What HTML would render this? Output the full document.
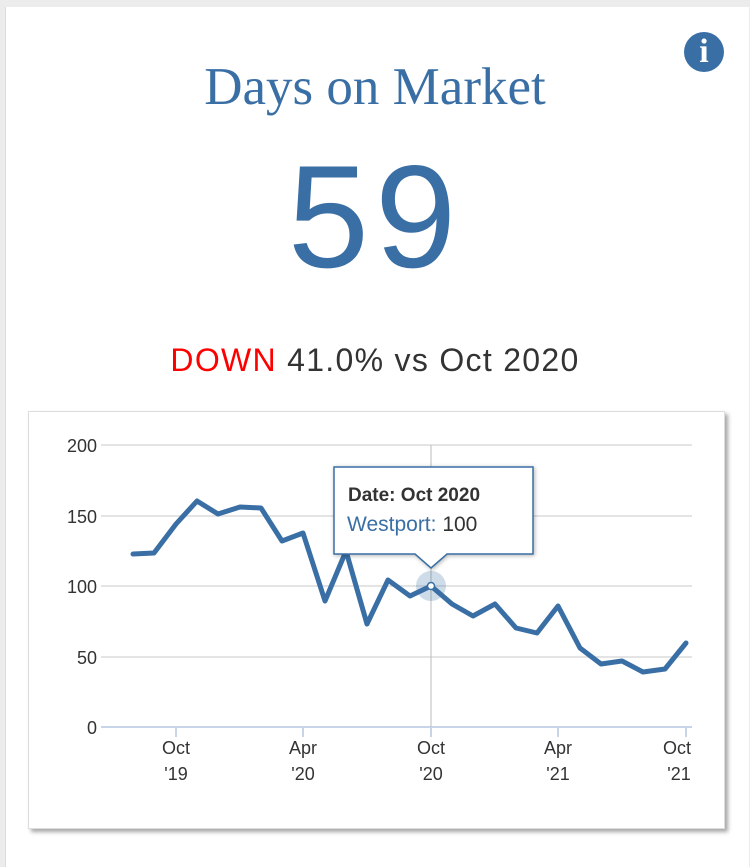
<!DOCTYPE html>
<html><head><style>
body{margin:0;width:750px;height:854px;background:#ececec;overflow:hidden;font-family:"Liberation Sans",sans-serif;}
.card{position:absolute;left:5px;top:7px;width:743px;height:860px;background:#fff;border-left:1px solid #ddd;}
.title{position:absolute;left:0;width:750px;top:57px;text-align:center;font-family:"Liberation Serif",serif;font-size:53px;color:#3a6fa5;line-height:60px;}
.big{position:absolute;left:0;width:750px;top:140px;text-align:center;font-size:146px;color:#3a6fa5;line-height:154px;letter-spacing:6px;}
.sub{position:absolute;left:0;width:750px;top:342px;text-align:center;font-size:32px;color:#333;letter-spacing:1.3px;}
.info{position:absolute;left:684px;top:32px;width:40px;height:40px;border-radius:50%;background:#3a6fa5;color:#fff;font-family:"Liberation Serif",serif;font-weight:bold;font-size:34px;text-align:center;line-height:40px;}
.chart{position:absolute;left:28px;top:411px;width:695px;height:416px;background:#fff;border:1px solid #ddd;box-shadow:3px 3px 4px rgba(0,0,0,0.35);}
</style></head><body>
<div class="card"></div>
<div class="info">i</div>
<div class="title">Days on Market</div>
<div class="big">59</div>
<div class="sub"><span style="color:#f00">DOWN</span> 41.0% vs Oct 2020</div>
<div class="chart"></div>
<svg width="750" height="854" style="position:absolute;left:0;top:0" font-family="Liberation Sans, sans-serif">
<g stroke="#e4e4e4" stroke-width="2">
<line x1="101" x2="692" y1="445" y2="445"/><line x1="101" x2="692" y1="516" y2="516"/><line x1="101" x2="692" y1="586" y2="586"/><line x1="101" x2="692" y1="657" y2="657"/>
</g>
<line x1="101" x2="692" y1="727" y2="727" stroke="#c8d5e8" stroke-width="2"/>
<g stroke="#c8d5e8" stroke-width="2"><line x1="176" x2="176" y1="727" y2="737"/><line x1="303" x2="303" y1="727" y2="737"/><line x1="431" x2="431" y1="727" y2="737"/><line x1="558" x2="558" y1="727" y2="737"/><line x1="686" x2="686" y1="727" y2="737"/></g>
<line x1="431" x2="431" y1="445" y2="727" stroke="#bbb" stroke-width="1"/>
<g font-size="18" fill="#333" text-anchor="end"><text x="97" y="452">200</text><text x="97" y="523">150</text><text x="97" y="593">100</text><text x="97" y="664">50</text><text x="97" y="734">0</text></g>
<g font-size="18" fill="#333" text-anchor="middle">
<text x="176" y="754">Oct</text><text x="176" y="780">'19</text>
<text x="303" y="754">Apr</text><text x="303" y="780">'20</text>
<text x="431" y="754">Oct</text><text x="431" y="780">'20</text>
<text x="558" y="754">Apr</text><text x="558" y="780">'21</text>
<text x="677" y="754">Oct</text><text x="679" y="780">'21</text></g>
<circle cx="431" cy="586" r="15" fill="#3a6fa5" opacity="0.25"/>
<polyline fill="none" stroke="#3a6fa5" stroke-width="5" stroke-linejoin="round" stroke-linecap="round" points="133,554 154,553 176,524 197,501 218,514 240,507 261,508 282,541 303,533 325,601 346,551 367,624 388,580 410,596 431,586 452,604 473,616 495,604 516,628 537,633 558,606 580,648 601,664 622,661 643,672 665,669 686,643"/>
<circle cx="431" cy="586" r="3.5" fill="#fff" stroke="#3a6fa5" stroke-width="1.5"/>
<path d="M334,467 H533 V554 H447 L431,568 L415,554 H334 Z" fill="#fff" stroke="#3a6fa5" stroke-width="1.5" style="filter:drop-shadow(1px 1px 2px rgba(0,0,0,0.3))"/>
<text x="348" y="501" font-size="19" font-weight="bold" fill="#333">Date: Oct 2020</text>
<text x="347" y="531" font-size="21" fill="#3a6fa5">Westport: <tspan fill="#333">100</tspan></text>
</svg>
</body></html>
